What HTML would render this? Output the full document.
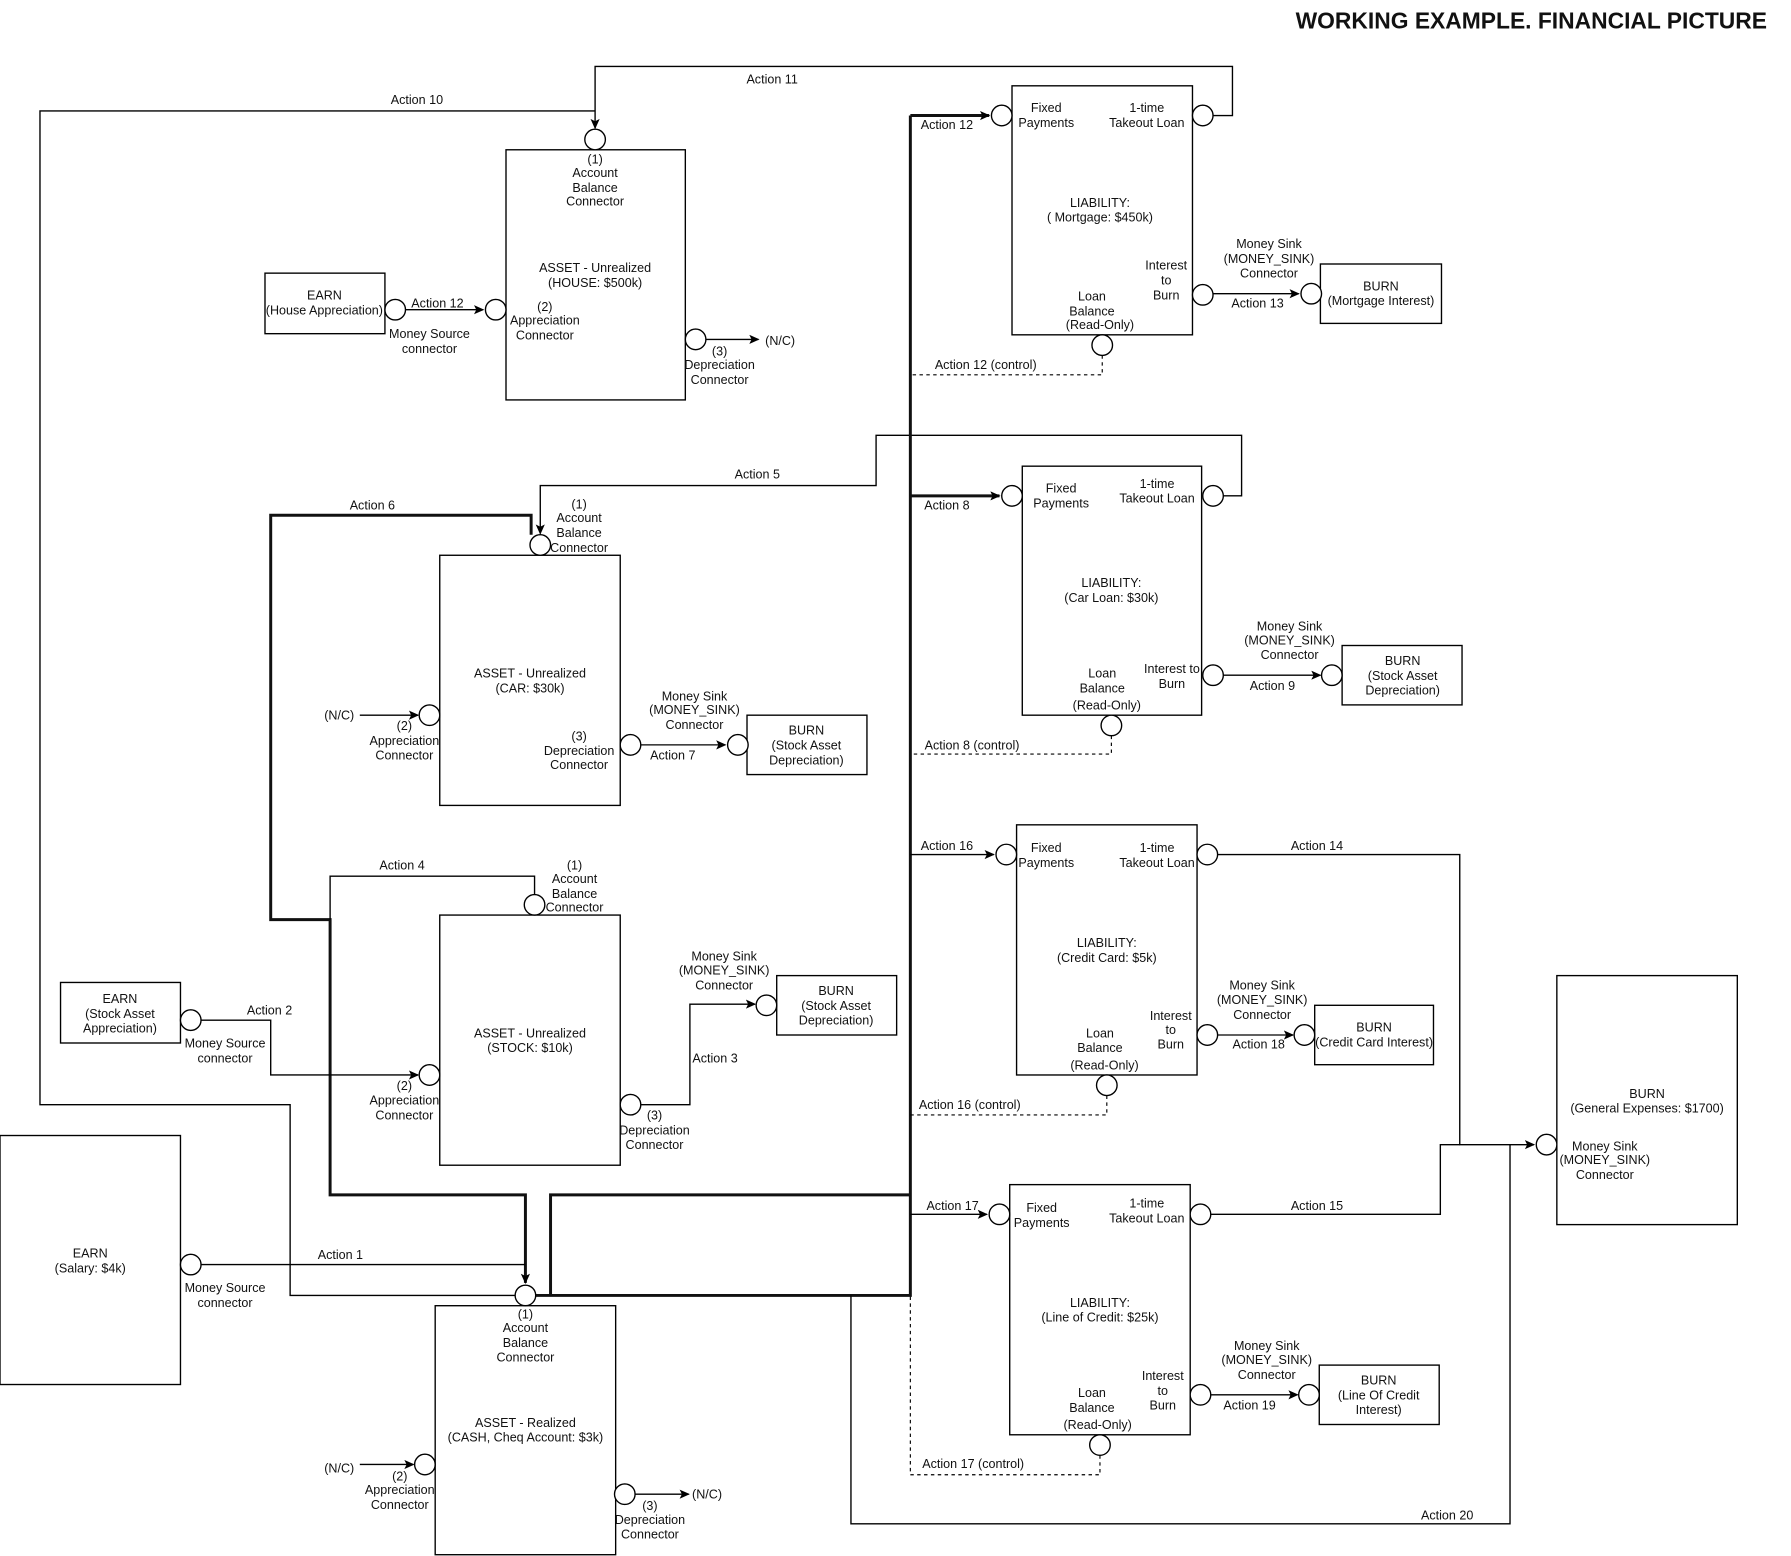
<!DOCTYPE html>
<html><head><meta charset="utf-8"><style>
html,body{margin:0;padding:0;background:#fff;}
svg{display:block;}
text{font-family:"Liberation Sans",Arial,sans-serif;font-size:11px;fill:#111;text-anchor:middle;}
.t{font-size:20px;font-weight:bold;text-anchor:end;}
.l{fill:none;stroke:#000;stroke-width:1.2;}
.k{fill:none;stroke:#111;stroke-width:2.6;}
.d{fill:none;stroke:#000;stroke-width:1;stroke-dasharray:3,3;}
.b{fill:#fff;stroke:#000;stroke-width:1.2;}
</style></head><body>
<svg width="1791" height="1556" viewBox="0 0 1568 1362" xmlns="http://www.w3.org/2000/svg">
<defs>
<marker id="a" markerWidth="10" markerHeight="10" refX="8" refY="5" orient="auto" markerUnits="userSpaceOnUse"><path d="M0,1 L9,5 L0,9 L2,5 Z" fill="#000"/></marker>
</defs>
<text class="t" x="1547" y="25">WORKING EXAMPLE. FINANCIAL PICTURE</text>

<polyline class="l" points="521,97 35,97 35,967 254,967 254,1134 451,1134"/>
<polyline class="l" points="1062,101 1079,101 1079,58 521,58 521,112" marker-end="url(#a)"/>
<polyline class="l" points="1071,434 1087,434 1087,381 767,381 767,425 473,425 473,467" marker-end="url(#a)"/>
<polyline class="k" points="797,101 866,101" marker-end="url(#a)"/>
<polyline class="k" points="797,434 875,434" marker-end="url(#a)"/>
<polyline class="k" points="797,101 797,1134 469,1134"/>
<polyline class="k" points="482,1134 482,1046 797,1046"/>
<polyline class="k" points="465,468 465,451 237,451 237,805 289,805 289,1046 460,1046 460,1123" marker-end="url(#a)"/>
<polyline class="l" points="289,805 289,767 468,767 468,783"/>
<polyline class="l" points="176,1107 460,1107"/>
<polyline class="l" points="797,748 870,748" marker-end="url(#a)"/>
<polyline class="l" points="797,1063 864,1063" marker-end="url(#a)"/>
<polyline class="l" points="1066,748 1278,748 1278,1002 1343,1002" marker-end="url(#a)"/>
<polyline class="l" points="1060,1063 1261,1063 1261,1002 1278,1002"/>
<polyline class="l" points="745,1134 745,1334 1322,1334 1322,1002"/>
<polyline class="d" points="965,311 965,328 797,328"/>
<polyline class="d" points="973,644 973,660 797,660"/>
<polyline class="d" points="969,959 969,976 797,976"/>
<polyline class="d" points="963,1274 963,1291 797,1291 797,1134"/>
<polyline class="l" points="355,271 423,271" marker-end="url(#a)"/>
<polyline class="l" points="618,297 664,297" marker-end="url(#a)"/>
<polyline class="l" points="315,626 366,626" marker-end="url(#a)"/>
<polyline class="l" points="561,652 635,652" marker-end="url(#a)"/>
<polyline class="l" points="561,967 604,967 604,879 661,879" marker-end="url(#a)"/>
<polyline class="l" points="176,893 237,893 237,941 366,941" marker-end="url(#a)"/>
<polyline class="l" points="315,1282 362,1282" marker-end="url(#a)"/>
<polyline class="l" points="556,1308 603,1308" marker-end="url(#a)"/>
<polyline class="l" points="1062,257 1137,257" marker-end="url(#a)"/>
<polyline class="l" points="1071,591 1156,591" marker-end="url(#a)"/>
<polyline class="l" points="1066,906 1132,906" marker-end="url(#a)"/>
<polyline class="l" points="1060,1221 1136,1221" marker-end="url(#a)"/>

<rect class="b" x="443" y="131" width="157" height="219"/>
<rect class="b" x="232" y="239" width="105" height="53"/>
<rect class="b" x="886" y="75" width="158" height="218"/>
<rect class="b" x="1156" y="231" width="106" height="52"/>
<rect class="b" x="895" y="408" width="157" height="218"/>
<rect class="b" x="1175" y="565" width="105" height="52"/>
<rect class="b" x="385" y="486" width="158" height="219"/>
<rect class="b" x="654" y="626" width="105" height="52"/>
<rect class="b" x="385" y="801" width="158" height="219"/>
<rect class="b" x="680" y="854" width="105" height="52"/>
<rect class="b" x="53" y="860" width="105" height="53"/>
<rect class="b" x="0" y="994" width="158" height="218"/>
<rect class="b" x="381" y="1143" width="158" height="218"/>
<rect class="b" x="890" y="722" width="158" height="219"/>
<rect class="b" x="1151" y="880" width="104" height="52"/>
<rect class="b" x="884" y="1037" width="158" height="219"/>
<rect class="b" x="1155" y="1195" width="105" height="52"/>
<rect class="b" x="1363" y="854" width="158" height="218"/>

<g class="b">
<circle cx="521" cy="122" r="9"/><circle cx="434" cy="271" r="9"/><circle cx="609" cy="297" r="9"/><circle cx="346" cy="271" r="9"/>
<circle cx="877" cy="101" r="9"/><circle cx="1053" cy="101" r="9"/><circle cx="1053" cy="258" r="9"/><circle cx="1148" cy="257" r="9"/><circle cx="965" cy="302" r="9"/>
<circle cx="886" cy="434" r="9"/><circle cx="1062" cy="434" r="9"/><circle cx="1062" cy="591" r="9"/><circle cx="1166" cy="591" r="9"/><circle cx="973" cy="635" r="9"/>
<circle cx="473" cy="477" r="9"/><circle cx="376" cy="626" r="9"/><circle cx="552" cy="652" r="9"/><circle cx="646" cy="652" r="9"/>
<circle cx="468" cy="792" r="9"/><circle cx="376" cy="941" r="9"/><circle cx="552" cy="967" r="9"/><circle cx="671" cy="880" r="9"/><circle cx="167" cy="893" r="9"/>
<circle cx="167" cy="1107" r="9"/><circle cx="460" cy="1134" r="9"/><circle cx="372" cy="1282" r="9"/><circle cx="547" cy="1308" r="9"/>
<circle cx="881" cy="748" r="9"/><circle cx="1057" cy="748" r="9"/><circle cx="1057" cy="906" r="9"/><circle cx="1142" cy="906" r="9"/><circle cx="969" cy="950" r="9"/>
<circle cx="875" cy="1063" r="9"/><circle cx="1051" cy="1063" r="9"/><circle cx="1051" cy="1221" r="9"/><circle cx="1146" cy="1221" r="9"/><circle cx="963" cy="1265" r="9"/>
<circle cx="1354" cy="1002" r="9"/>
</g>

<text x="365" y="91">Action 10</text>
<text x="676" y="73">Action 11</text>
<text x="521" y="143">(1)</text><text x="521" y="155">Account</text><text x="521" y="168">Balance</text><text x="521" y="180">Connector</text>
<text x="521" y="238">ASSET - Unrealized</text><text x="521" y="251">(HOUSE: $500k)</text>
<text x="477" y="272">(2)</text><text x="477" y="284">Appreciation</text><text x="477" y="297">Connector</text>
<text x="683" y="302">(N/C)</text>
<text x="630" y="311">(3)</text><text x="630" y="323">Depreciation</text><text x="630" y="336">Connector</text>
<text x="284" y="262">EARN</text><text x="284" y="275">(House  Appreciation)</text>
<text x="383" y="269">Action 12</text>
<text x="376" y="296">Money Source</text><text x="376" y="309">connector</text>

<text x="829" y="113">Action 12</text>
<text x="916" y="98">Fixed</text><text x="916" y="111">Payments</text>
<text x="1004" y="98">1-time</text><text x="1004" y="111">Takeout Loan</text>
<text x="963" y="181">LIABILITY:</text><text x="963" y="194">( Mortgage: $450k)</text>
<text x="1021" y="236">Interest</text><text x="1021" y="249">to</text><text x="1021" y="262">Burn</text>
<text x="1111" y="217">Money Sink</text><text x="1111" y="230">(MONEY_SINK)</text><text x="1111" y="243">Connector</text>
<text x="1101" y="269">Action 13</text>
<text x="1209" y="254">BURN</text><text x="1209" y="267">(Mortgage Interest)</text>
<text x="956" y="263">Loan</text><text x="956" y="276">Balance</text><text x="963" y="288">(Read-Only)</text>
<text x="863" y="323">Action 12 (control)</text>

<text x="663" y="419">Action 5</text>
<text x="829" y="446">Action 8</text>
<text x="326" y="446">Action 6</text>
<text x="929" y="431">Fixed</text><text x="929" y="444">Payments</text>
<text x="1013" y="427">1-time</text><text x="1013" y="440">Takeout Loan</text>
<text x="973" y="514">LIABILITY:</text><text x="973" y="527">(Car Loan: $30k)</text>
<text x="1026" y="589">Interest to</text><text x="1026" y="602">Burn</text>
<text x="1129" y="552">Money Sink</text><text x="1129" y="564">(MONEY_SINK)</text><text x="1129" y="577">Connector</text>
<text x="1114" y="604">Action 9</text>
<text x="1228" y="582">BURN</text><text x="1228" y="595">(Stock Asset</text><text x="1228" y="608">Depreciation)</text>
<text x="965" y="593">Loan</text><text x="965" y="606">Balance</text><text x="969" y="621">(Read-Only)</text>
<text x="851" y="656">Action 8 (control)</text>

<text x="507" y="445">(1)</text><text x="507" y="457">Account</text><text x="507" y="470">Balance</text><text x="507" y="483">Connector</text>
<text x="464" y="593">ASSET - Unrealized</text><text x="464" y="606">(CAR: $30k)</text>
<text x="297" y="630">(N/C)</text>
<text x="354" y="639">(2)</text><text x="354" y="652">Appreciation</text><text x="354" y="665">Connector</text>
<text x="507" y="648">(3)</text><text x="507" y="661">Depreciation</text><text x="507" y="673">Connector</text>
<text x="589" y="665">Action 7</text>
<text x="608" y="613">Money Sink</text><text x="608" y="625">(MONEY_SINK)</text><text x="608" y="638">Connector</text>
<text x="706" y="643">BURN</text><text x="706" y="656">(Stock Asset</text><text x="706" y="669">Depreciation)</text>

<text x="352" y="761">Action 4</text>
<text x="503" y="761">(1)</text><text x="503" y="773">Account</text><text x="503" y="786">Balance</text><text x="503" y="798">Connector</text>
<text x="464" y="908">ASSET - Unrealized</text><text x="464" y="921">(STOCK: $10k)</text>
<text x="354" y="954">(2)</text><text x="354" y="967">Appreciation</text><text x="354" y="980">Connector</text>
<text x="573" y="980">(3)</text><text x="573" y="993">Depreciation</text><text x="573" y="1006">Connector</text>
<text x="626" y="930">Action 3</text>
<text x="634" y="841">Money Sink</text><text x="634" y="853">(MONEY_SINK)</text><text x="634" y="866">Connector</text>
<text x="732" y="871">BURN</text><text x="732" y="884">(Stock Asset</text><text x="732" y="897">Depreciation)</text>
<text x="105" y="878">EARN</text><text x="105" y="891">(Stock Asset</text><text x="105" y="904">Appreciation)</text>
<text x="236" y="888">Action 2</text>
<text x="197" y="917">Money Source</text><text x="197" y="930">connector</text>

<text x="79" y="1101">EARN</text><text x="79" y="1114">(Salary: $4k)</text>
<text x="298" y="1102">Action 1</text>
<text x="197" y="1131">Money Source</text><text x="197" y="1144">connector</text>
<text x="460" y="1154">(1)</text><text x="460" y="1166">Account</text><text x="460" y="1179">Balance</text><text x="460" y="1192">Connector</text>
<text x="460" y="1249">ASSET - Realized</text><text x="460" y="1262">(CASH, Cheq Account: $3k)</text>
<text x="297" y="1289">(N/C)</text>
<text x="350" y="1296">(2)</text><text x="350" y="1308">Appreciation</text><text x="350" y="1321">Connector</text>
<text x="619" y="1312">(N/C)</text>
<text x="569" y="1322">(3)</text><text x="569" y="1334">Depreciation</text><text x="569" y="1347">Connector</text>

<text x="829" y="744">Action 16</text>
<text x="1153" y="744">Action 14</text>
<text x="916" y="746">Fixed</text><text x="916" y="759">Payments</text>
<text x="1013" y="746">1-time</text><text x="1013" y="759">Takeout Loan</text>
<text x="969" y="829">LIABILITY:</text><text x="969" y="842">(Credit Card: $5k)</text>
<text x="1025" y="893">Interest</text><text x="1025" y="905">to</text><text x="1025" y="918">Burn</text>
<text x="1105" y="866">Money Sink</text><text x="1105" y="879">(MONEY_SINK)</text><text x="1105" y="892">Connector</text>
<text x="1102" y="918">Action 18</text>
<text x="1203" y="903">BURN</text><text x="1203" y="916">(Credit Card Interest)</text>
<text x="963" y="908">Loan</text><text x="963" y="921">Balance</text><text x="967" y="936">(Read-Only)</text>
<text x="849" y="971">Action 16 (control)</text>

<text x="834" y="1059">Action 17</text>
<text x="1153" y="1059">Action 15</text>
<text x="912" y="1061">Fixed</text><text x="912" y="1074">Payments</text>
<text x="1004" y="1057">1-time</text><text x="1004" y="1070">Takeout Loan</text>
<text x="963" y="1144">LIABILITY:</text><text x="963" y="1157">(Line of Credit: $25k)</text>
<text x="1018" y="1208">Interest</text><text x="1018" y="1221">to</text><text x="1018" y="1234">Burn</text>
<text x="1109" y="1182">Money Sink</text><text x="1109" y="1194">(MONEY_SINK)</text><text x="1109" y="1207">Connector</text>
<text x="1094" y="1234">Action 19</text>
<text x="1207" y="1212">BURN</text><text x="1207" y="1225">(Line Of Credit</text><text x="1207" y="1238">Interest)</text>
<text x="956" y="1223">Loan</text><text x="956" y="1236">Balance</text><text x="961" y="1251">(Read-Only)</text>
<text x="852" y="1285">Action 17 (control)</text>
<text x="1267" y="1330">Action 20</text>

<text x="1442" y="961">BURN</text><text x="1442" y="974">(General Expenses: $1700)</text>
<text x="1405" y="1007">Money Sink</text><text x="1405" y="1019">(MONEY_SINK)</text><text x="1405" y="1032">Connector</text>
</svg>
</body></html>
